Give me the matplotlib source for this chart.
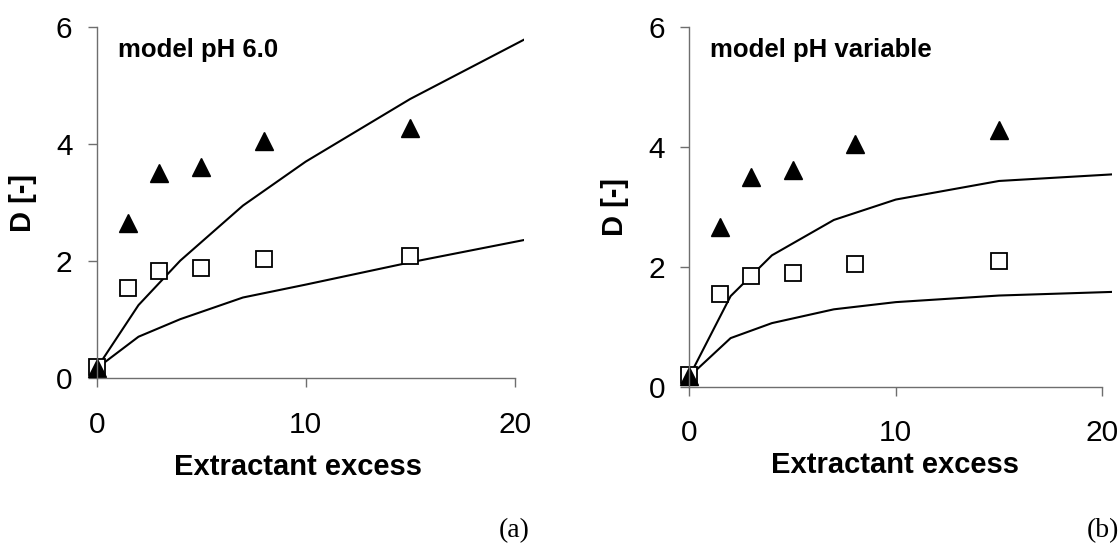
import numpy as np
import matplotlib
matplotlib.use("Agg")
import matplotlib.pyplot as plt

# measured distribution ratios (same experiments in both panels)
x_exp = [0, 1.5, 3, 5, 8, 15]
d_triangles = [0.18, 2.66, 3.50, 3.61, 4.05, 4.28]
d_squares = [0.20, 1.55, 1.84, 1.89, 2.04, 2.09]

# model curves
x_model = [0, 2, 4, 7, 10, 15, 25]
model_fixed_high = [0.17, 1.25, 2.01, 2.95, 3.70, 4.77, 6.63]
model_fixed_low = [0.17, 0.71, 1.01, 1.38, 1.60, 1.98, 2.68]
model_var_high = [0.17, 1.51, 2.19, 2.78, 3.12, 3.43, 3.63]
model_var_low = [0.17, 0.81, 1.06, 1.29, 1.41, 1.52, 1.63]

W, H = 1120, 544
fig = plt.figure(figsize=(W / 100, H / 100), dpi=100)
plt.rcParams['font.family'] = ['Liberation Sans', 'DejaVu Sans']

AXIS_GREY = '#6e6e6e'


def px_axes(left, top, right, bottom):
    return fig.add_axes([left / W, 1 - bottom / H, (right - left) / W, (bottom - top) / H])


def style(ax, title, label_y):
    ax.set_xlim(0, 20.45)
    ax.set_ylim(0, 6)
    ax.set_xticks([0, 10, 20])
    ax.set_yticks([0, 2, 4, 6])
    for s in ['top', 'right']:
        ax.spines[s].set_visible(False)
    for s in ['left', 'bottom']:
        ax.spines[s].set_color(AXIS_GREY)
        ax.spines[s].set_linewidth(1.0)
    ax.spines['bottom'].set_bounds(0, 20)
    ax.tick_params(axis='both', direction='out', length=6.5, width=1.0,
                   color=AXIS_GREY, labelsize=21.5)
    ax.tick_params(axis='x', pad=17)
    ax.tick_params(axis='y', pad=11)
    ax.set_xlabel('Extractant excess', fontsize=21, fontweight='bold', va='center')
    ax.xaxis.set_label_coords(0.47, label_y)
    ax.set_ylabel('D [-]', fontsize=21, fontweight='bold', va='center')
    ax.text(0.05, 0.935, title, transform=ax.transAxes, fontsize=18.5,
            fontweight='bold', va='center', ha='left')
    ax.patch.set_alpha(0)


def draw(ax, high, low):
    ax.plot(x_model, high, color='black', lw=1.5, clip_on=True)
    ax.plot(x_model, low, color='black', lw=1.5, clip_on=True)
    ax.plot(x_exp, d_squares, ls='none', marker='s', ms=11.5, mfc='white',
            mec='black', mew=1.3, clip_on=False)
    ax.plot(x_exp, d_triangles, ls='none', marker='^', ms=13, mfc='black',
            mec='black', clip_on=False)


ax_a = px_axes(96.7, 27, 524, 378.3)
draw(ax_a, model_fixed_high, model_fixed_low)
style(ax_a, 'model pH 6.0', -0.2525)
ax_a.yaxis.set_label_coords(-0.172, 0.5)

ax_b = px_axes(689.3, 26.8, 1111.6, 386.7)
draw(ax_b, model_var_high, model_var_low)
style(ax_b, 'model pH variable', -0.218)
ax_b.yaxis.set_label_coords(-0.175, 0.5)
ax_b.xaxis.set_label_coords(0.487, -0.218)

fig.text(514 / W, 1 - 531 / H, '(a)', family='Liberation Serif', fontsize=20,
         ha='center', va='center')
fig.text(1087 / W, 1 - 531 / H, '(b)', family='Liberation Serif', fontsize=20,
         ha='left', va='center')

fig.savefig('out.png', dpi=100)
